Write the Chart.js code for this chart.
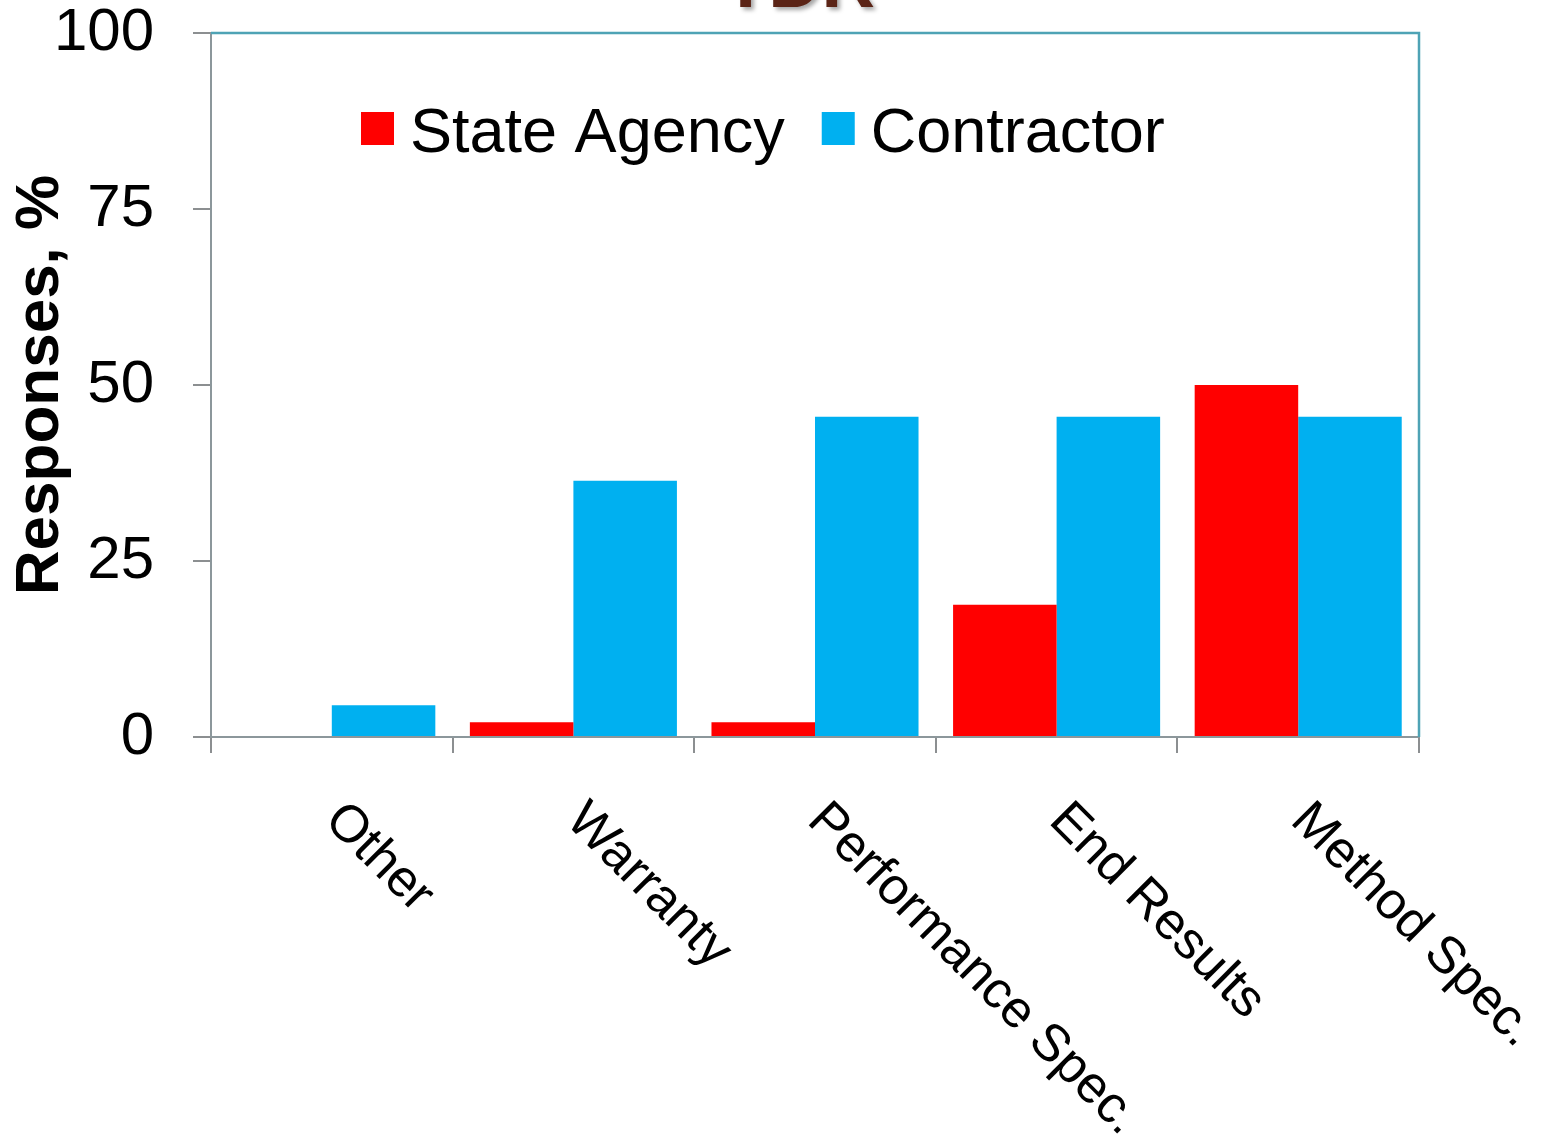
<!DOCTYPE html>
<html>
<head>
<meta charset="utf-8">
<script src="https://cdn.jsdelivr.net/npm/chart.js@4/dist/chart.umd.min.js"></script>
<style>
  html, body { margin: 0; padding: 0; background: #ffffff; overflow: hidden; }
  #wrap { position: relative; width: 1541px; height: 1138px; overflow: hidden; }
  #slideTitle {
    position: absolute; left: 0; width: 1598px; top: -55px; text-align: center;
    font-family: "Liberation Sans", Arial, sans-serif; font-weight: bold; font-size: 74px;
    line-height: 74px; color: #5b2416; text-shadow: 3px 3px 4px rgba(0,0,0,0.35);
  }
  canvas { position: absolute; left: 0; top: 0; }
</style>
</head>
<body>
<div id="wrap">
  <canvas id="c" width="1541" height="1138"></canvas>
  <div id="slideTitle">TDR</div>
</div>
<script>
const categories = ['Other', 'Warranty', 'Performance Spec.', 'End Results', 'Method Spec.'];
const stateAgency = [0, 2.1, 2.1, 18.8, 50];
const contractor = [4.5, 36.4, 45.5, 45.5, 45.5];
const seriesNames = ['State Agency', 'Contractor'];
const yTicks = [0, 25, 50, 75, 100];
const yTitle = 'Responses, %';

const FONT = '"Liberation Sans", Arial, sans-serif';

const frameAndLabels = {
  id: 'frameAndLabels',
  afterDraw(chart) {
    const ctx = chart.ctx;
    const a = chart.chartArea;
    const xs = chart.scales.x;
    ctx.save();
    // teal frame (top & right)
    ctx.strokeStyle = '#4ea3b5';
    ctx.lineWidth = 2.5;
    ctx.beginPath();
    ctx.moveTo(a.left, a.top);
    ctx.lineTo(a.right, a.top);
    ctx.lineTo(a.right, a.bottom);
    ctx.stroke();
    // rotated category labels
    ctx.fillStyle = '#000000';
    ctx.font = '52px ' + FONT;
    ctx.textAlign = 'left';
    ctx.textBaseline = 'middle';
    categories.forEach((lab, i) => {
      const x = xs.getPixelForValue(i);
      ctx.save();
      ctx.translate(x + 1, a.bottom + 75);
      ctx.rotate(Math.PI / 4);
      ctx.fillText(lab, 0, 0);
      ctx.restore();
    });
    // legend
    ctx.font = '63px ' + FONT;
    ctx.textBaseline = 'alphabetic';
    let lx = a.left + 150;
    const cy = a.top + 95.5;
    chart.data.datasets.forEach((ds, i) => {
      ctx.fillStyle = ds.backgroundColor;
      ctx.fillRect(lx, cy - 16.5, 33, 33);
      ctx.fillStyle = '#000000';
      ctx.fillText(ds.label, lx + 49, a.top + 119);
      lx += 49 + ctx.measureText(ds.label).width + 37;
    });
    ctx.restore();
  }
};

new Chart(document.getElementById('c'), {
  type: 'bar',
  data: {
    labels: categories,
    datasets: [
      { label: seriesNames[0], data: stateAgency, backgroundColor: '#ff0000', borderWidth: 0 },
      { label: seriesNames[1], data: contractor, backgroundColor: '#00b0f0', borderWidth: 0 }
    ]
  },
  options: {
    responsive: false,
    animation: false,
    devicePixelRatio: 1,
    datasets: { bar: { categoryPercentage: 0.857, barPercentage: 1.0 } },
    layout: { padding: { left: 0, right: 122, top: 33, bottom: 0 } },
    plugins: {
      legend: { display: false },
      tooltip: { enabled: false },
      title: { display: false }
    },
    scales: {
      x: {
        grid: { display: true, drawOnChartArea: false, drawTicks: true, tickLength: 16, color: '#8c8f91', lineWidth: 2, offset: true },
        border: { display: true, color: '#8c979b', width: 2 },
        ticks: { display: false },
        afterFit(s) { s.height = 401; s.paddingLeft = 0; s.paddingRight = 0; }
      },
      y: {
        min: 0, max: 100,
        afterBuildTicks(s) { s.ticks = yTicks.map(v => ({ value: v })); },
        grid: { display: true, drawOnChartArea: false, drawTicks: true, tickLength: 18, color: '#8c8f91', lineWidth: 2 },
        border: { display: true, color: '#8c979b', width: 2 },
        ticks: { color: '#000000', padding: 39, font: { family: FONT, size: 60 } },
        title: { display: true, text: yTitle, color: '#000000', font: { family: FONT, size: 62, weight: 'bold', lineHeight: 1.2 }, padding: { top: 4, bottom: 4 } },
        afterFit(s) { s.width = 211; s.paddingTop = 0; s.paddingBottom = 0; }
      }
    }
  },
  plugins: [frameAndLabels]
});
</script>
</body>
</html>
